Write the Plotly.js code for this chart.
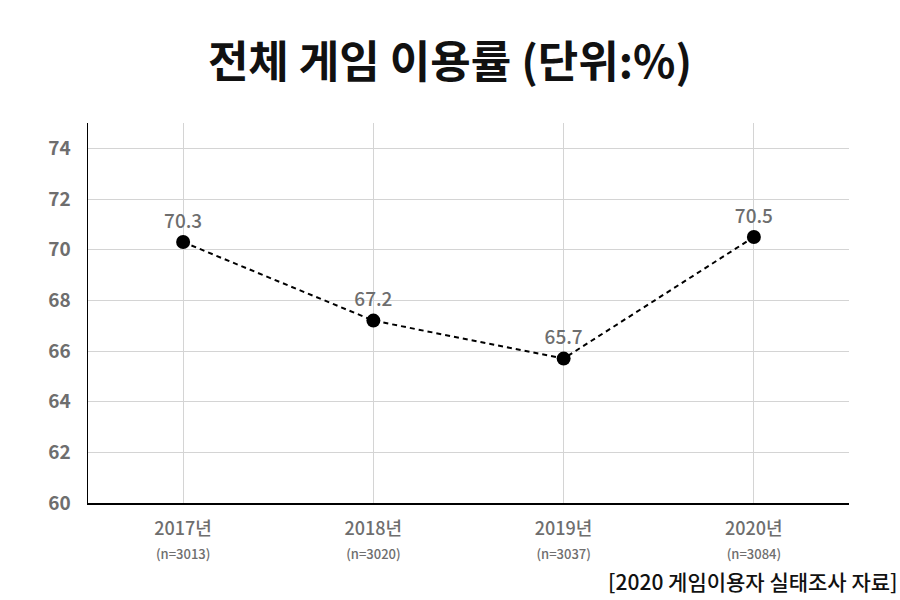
<!DOCTYPE html>
<html>
<head>
<meta charset="utf-8">
<script src="https://cdn.plot.ly/plotly-3.0.1.min.js"></script>
<style>
  html, body { margin: 0; padding: 0; background: #fff; }
  #chart { width: 900px; height: 600px; }
</style>
</head>
<body>
<div id="chart"></div>
<script>
// ─── Data ─────────────────────────────────────────────
const years   = ['2017년', '2018년', '2019년', '2020년'];
const samples = ['(n=3013)', '(n=3020)', '(n=3037)', '(n=3084)'];
const rates   = [70.3, 67.2, 65.7, 70.5];

const FONT = '"Noto Sans CJK KR", "Noto Sans", sans-serif';
const GREY = '#6e6e6e';

const tickText = years.map((y, i) =>
    `${y}<br><span style="font-size:13px">${samples[i]}</span>`);

const data = [{
    x: years,
    y: rates,
    type: 'scatter',
    mode: 'lines+markers+text',
    line: { color: '#000', width: 2, dash: '5px,4px' },
    marker: { color: '#000', size: 14 },
    text: rates.map(v => v.toFixed(1)),
    textposition: 'top center',
    textfont: { family: FONT, size: 19, color: GREY, weight: 500 },
    cliponaxis: false,
    hoverinfo: 'skip'
}];

const layout = {
    width: 900, height: 600,
    margin: { l: 88, r: 51, t: 123, b: 97 },
    paper_bgcolor: '#fff', plot_bgcolor: '#fff',
    showlegend: false,
    title: {
        text: '<b>전체 게임 이용률 (단위:%)</b>',
        x: 0.5, xanchor: 'center', y: 0.895, yanchor: 'middle',
        font: { family: FONT, size: 44, color: '#111' }
    },
    xaxis: {
        type: 'category',
        range: [-0.5, 3.5],
        tickvals: years,
        ticktext: tickText,
        tickfont: { family: FONT, size: 18, color: GREY, weight: 500 },
        showgrid: true, gridcolor: '#d4d4d4', gridwidth: 1,
        showline: true, linecolor: '#000', linewidth: 1.5,
        ticks: '', ticklabelstandoff: 9,
        zeroline: false, fixedrange: true
    },
    yaxis: {
        range: [60, 75],
        tickvals: [60, 62, 64, 66, 68, 70, 72, 74],
        tickfont: { family: FONT, size: 19, color: GREY, weight: 600 },
        showgrid: true, gridcolor: '#d4d4d4', gridwidth: 1,
        showline: true, linecolor: '#000', linewidth: 1.5,
        ticks: '', ticklabelstandoff: 12,
        zeroline: false, fixedrange: true
    },
    annotations: [{
        text: '[2020 게임이용자 실태조사 자료]',
        xref: 'paper', yref: 'paper',
        x: 1.067, y: -0.205, xanchor: 'right', yanchor: 'middle',
        showarrow: false,
        font: { family: FONT, size: 21, color: '#111', weight: 500 }
    }]
};

Plotly.newPlot('chart', data, layout, { displayModeBar: false, staticPlot: true });
</script>
</body>
</html>
